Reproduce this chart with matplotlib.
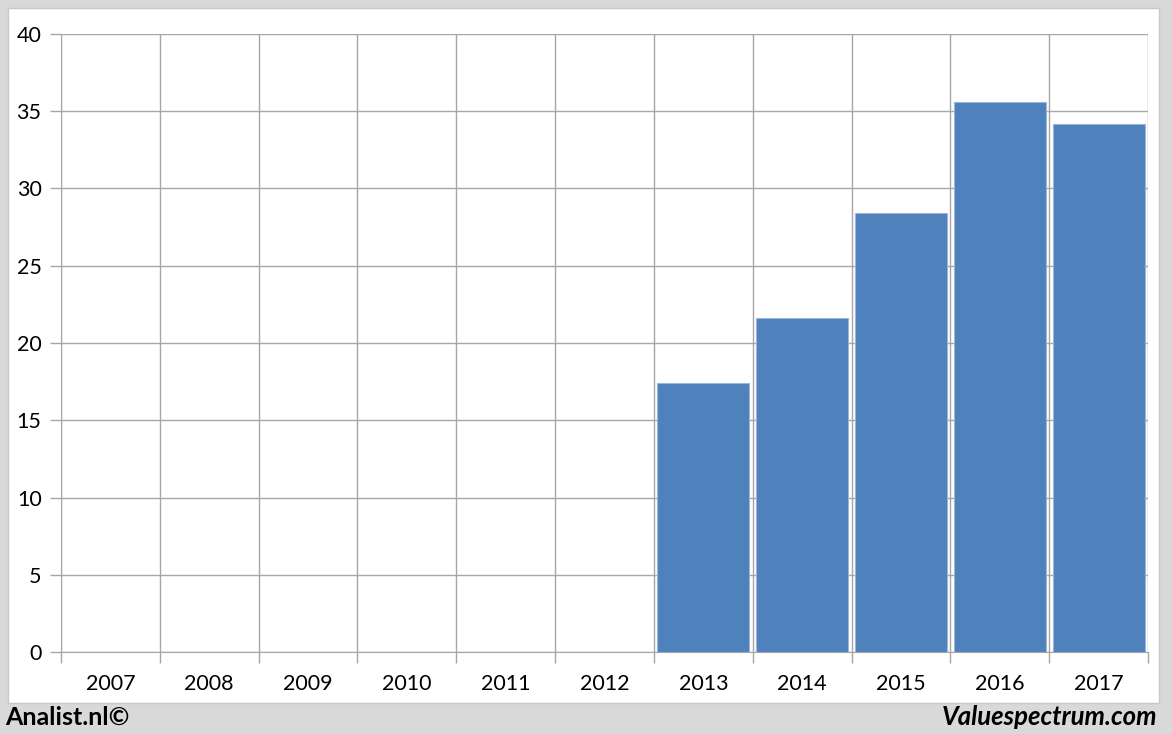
import matplotlib
matplotlib.use("Agg")
import matplotlib.pyplot as plt
from matplotlib.patches import Rectangle
import numpy as np

years = ["2007", "2008", "2009", "2010", "2011", "2012",
         "2013", "2014", "2015", "2016", "2017"]
values = [0, 0, 0, 0, 0, 0, 17.4, 21.6, 28.4, 35.6, 34.2]

plt.rcParams["font.family"] = ["Lato", "DejaVu Sans"]

fig = plt.figure(figsize=(11.72, 7.34), dpi=100, facecolor="#d9d9d9")

# white panel
fig.patches.append(Rectangle((8 / 1172, 31 / 734), 1151 / 1172, 695 / 734,
                             transform=fig.transFigure, facecolor="white",
                             edgecolor="#c8c8c8", linewidth=1, zorder=-5))

ax = fig.add_axes([61 / 1172, 82 / 734, 1087 / 1172, 618 / 734])
ax.set_facecolor("none")
ax.set_zorder(2)

x = np.arange(len(years))
ax.bar(x, values, width=0.93, color="#4f81bd", edgecolor="#9cb6d8",
       linewidth=0.8, zorder=3)

ax.set_xlim(-0.5, len(years) - 0.5)
ax.set_ylim(0, 40)

grid_c = "#a6a6a6"
ax.set_yticks(np.arange(0, 41, 5))
ax.set_xticks(x)
ax.set_xticklabels(years)
ax.set_xticks(np.arange(-0.5, len(years)), minor=True)

ax.tick_params(axis="y", length=8, color=grid_c, width=1, labelsize=15.5, pad=6)
ax.tick_params(axis="x", which="major", length=0, labelsize=15.5, pad=16)
ax.tick_params(axis="x", which="minor", length=8, color=grid_c, width=1)

ax.grid(axis="y", color=grid_c, linewidth=1, zorder=1)
ax.grid(axis="x", which="minor", color=grid_c, linewidth=1, zorder=1)
ax.set_axisbelow(True)

for s in ["top", "right"]:
    ax.spines[s].set_visible(False)
ax.spines["left"].set_color(grid_c)
ax.spines["bottom"].set_color(grid_c)

fig.text(5 / 1172, 1 - 717 / 734, "Analist.nl©", fontsize=18,
         fontweight="bold", ha="left", va="center")
fig.text(1157 / 1172, 1 - 717 / 734, "Valuespectrum.com", fontsize=18.5,
         fontweight="bold", fontstyle="italic", ha="right", va="center")

fig.savefig("out.png", dpi=100, facecolor=fig.get_facecolor())
